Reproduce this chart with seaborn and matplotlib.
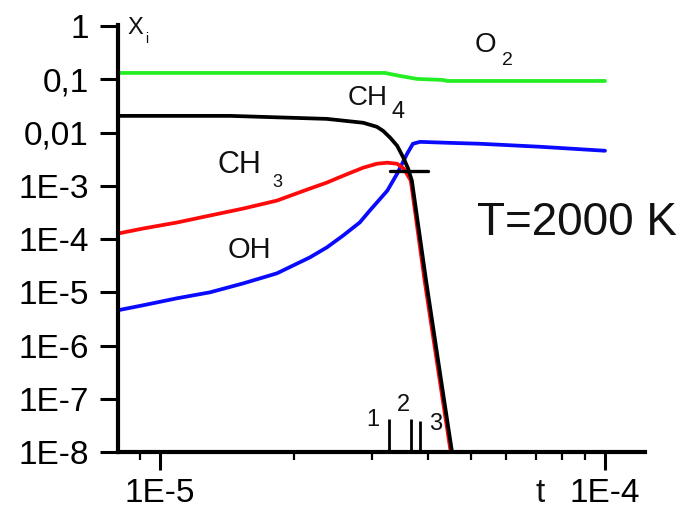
import numpy as np
import pandas as pd
import matplotlib
matplotlib.use("Agg")
import matplotlib.pyplot as plt
import seaborn as sns

# ---------------- data ----------------
o2_t = [8.04e-6, 3.20e-5, 3.46e-5, 3.78e-5, 4.32e-5, 4.42e-5, 1.0e-4]
o2_x = [0.132, 0.132, 0.116, 0.102, 0.0975, 0.0933, 0.0933]

ch4_t = [8.04e-6, 1.44e-5, 2.37e-5, 2.86e-5, 3.07e-5, 3.17e-5, 3.29e-5, 3.41e-5,
         3.52e-5, 3.61e-5, 3.68e-5, 3.96e-5, 4.28e-5, 4.53e-5]
ch4_x = [0.0206, 0.0206, 0.0181, 0.0153, 0.01285, 0.0108, 8.0e-3, 5.66e-3,
         3.4e-3, 2.1e-3, 1.25e-3, 1.68e-5, 2.25e-7, 1.0e-8]

ch3_t = [8.04e-6, 9.16e-6, 1.092e-5, 1.295e-5, 1.537e-5, 1.83e-5, 2.17e-5, 2.37e-5,
         2.58e-5, 2.86e-5, 3.07e-5, 3.24e-5, 3.41e-5, 3.53e-5, 3.66e-5, 3.93e-5,
         4.25e-5, 4.50e-5]
ch3_x = [1.27e-4, 1.58e-4, 2.05e-4, 2.77e-4, 3.74e-4, 5.28e-4, 8.87e-4, 1.15e-3,
         1.55e-3, 2.19e-3, 2.60e-3, 2.72e-3, 2.60e-3, 2.1e-3, 1.25e-3, 1.68e-5,
         2.25e-7, 1.0e-8]

oh_t = [8.04e-6, 9.16e-6, 1.092e-5, 1.295e-5, 1.537e-5, 1.83e-5, 2.17e-5, 2.37e-5,
        2.58e-5, 2.81e-5, 2.96e-5, 3.24e-5, 3.41e-5, 3.59e-5, 3.70e-5, 3.84e-5,
        4.42e-5, 5.24e-5, 7.14e-5, 1.0e-4]
oh_x = [4.6e-6, 5.71e-6, 7.73e-6, 1.0e-5, 1.47e-5, 2.27e-5, 4.52e-5, 6.97e-5,
        1.17e-4, 2.05e-4, 3.43e-4, 8.1e-4, 1.69e-3, 4.0e-3, 6.17e-3, 6.7e-3,
        6.44e-3, 6.17e-3, 5.42e-3, 4.56e-3]

cross_t = [3.28e-5, 4.0e-5]
cross_x = [1.93e-3, 1.93e-3]

mark_t = [3.27e-5, 3.66e-5, 3.84e-5]
mark_top = [4.2e-8, 4.2e-8, 3.9e-8]
mark_labels = ["1", "2", "3"]

y_ticks = [1, 0.1, 0.01, 1e-3, 1e-4, 1e-5, 1e-6, 1e-7, 1e-8]
y_ticklabels = ["1", "0,1", "0,01", "1E-3", "1E-4", "1E-5", "1E-6", "1E-7", "1E-8"]
x_ticks = [1e-5, 1e-4]
x_ticklabels = ["1E-5", "1E-4"]

# ---------------- figure ----------------
sns.set_theme(style="ticks")
plt.rcParams["font.family"] = ["Liberation Sans", "DejaVu Sans"]

W, H = 689, 512
fig = plt.figure(figsize=(W / 100, H / 100), dpi=100)
ax = fig.add_axes([118 / W, 60 / H, 527 / W, 427 / H])
ax.set_xscale("log")
ax.set_yscale("log")

lw = 2.7
def draw(t, x, color):
    df = pd.DataFrame({"t": t, "x": x})
    sns.lineplot(data=df, x="t", y="x", ax=ax, color=color, lw=lw,
                 sort=False, estimator=None)

draw(o2_t, o2_x, "#22ee22")
draw(oh_t, oh_x, "#0a0aff")
draw(ch3_t, ch3_x, "#ff0a0a")
draw(ch4_t, ch4_x, "black")
ax.plot(cross_t, cross_x, color="black", lw=2.4)
ax.vlines(mark_t, 1e-8, mark_top, color="black", lw=2.0)

ax.set_xlim(8.04e-6, 1.23e-4)
ax.set_ylim(1e-8, 1.05)
ax.set_xlabel("")
ax.set_ylabel("")

ax.set_yticks(y_ticks)
ax.set_yticklabels(y_ticklabels)
ax.set_xticks(x_ticks)
ax.set_xticklabels(x_ticklabels)
ax.yaxis.set_minor_locator(matplotlib.ticker.LogLocator(base=10, subs=np.arange(2, 10)))
ax.xaxis.set_minor_locator(matplotlib.ticker.LogLocator(base=10, subs=np.arange(2, 10)))
ax.yaxis.set_minor_formatter(matplotlib.ticker.NullFormatter())
ax.xaxis.set_minor_formatter(matplotlib.ticker.NullFormatter())

ax.tick_params(which="major", direction="out", length=13, width=2.2,
               labelsize=24, colors="black", pad=6)
ax.tick_params(which="minor", direction="out", length=6, width=1.6, colors="black")
ax.tick_params(axis="y", which="major", pad=8)
sns.despine(ax=ax)
for s in ["left", "bottom"]:
    ax.spines[s].set_linewidth(3.0)
    ax.spines[s].set_color("black")
ax.grid(False)

def ftext(x, y, s, size, **kw):
    fig.text(x / W, 1 - y / H, s, fontsize=size, color="#111111",
             ha=kw.pop("ha", "left"), va=kw.pop("va", "baseline"), **kw)

ftext(475, 52, "O", 20)
ftext(502, 65, "2", 14)
ftext(348, 105, "CH", 20)
ftext(392, 118, "4", 17)
ftext(218, 173, "CH", 22)
ftext(272, 187, "3", 13)
ftext(228, 258, "OH", 21)
ftext(477, 235, "T=2000 K", 33)
ftext(127, 34, "X", 17)
ftext(145, 43, "i", 10)
ftext(535, 502, "t", 24)
for lab, (px, py) in zip(mark_labels, [(373, 426), (403, 411), (436, 430)]):
    ftext(px, py, lab, 17, ha="center")

fig.savefig("out.png", dpi=100, facecolor="white")
